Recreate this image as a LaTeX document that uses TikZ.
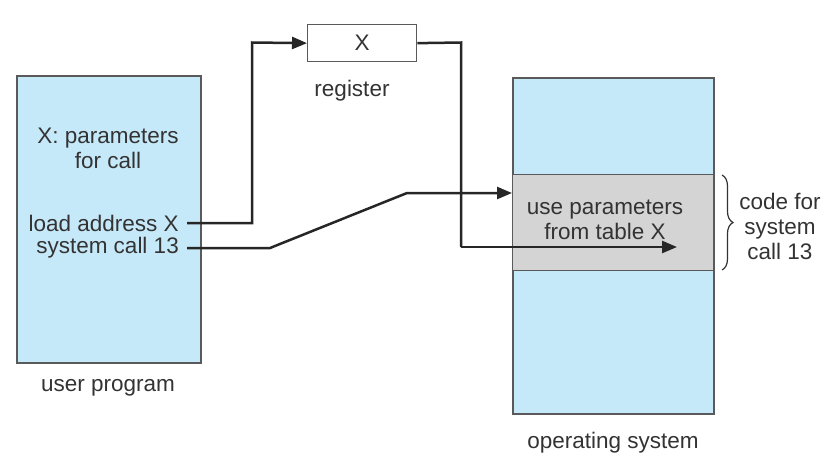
\documentclass[tikz,border=0pt]{standalone}
\usepackage{fontspec}
\setmainfont{Liberation Sans}
\usetikzlibrary{arrows.meta,decorations.pathreplacing}
\definecolor{memblue}{HTML}{C6E9F9}
\definecolor{codegray}{HTML}{D4D4D4}
\definecolor{edgegray}{HTML}{5A5A5A}
\definecolor{txt}{HTML}{333333}
\tikzset{
  membox/.style={draw=edgegray, line width=1.5pt, fill=memblue, inner sep=0pt, anchor=north west},
  bandbox/.style={draw=edgegray, line width=1.2pt, fill=codegray, inner sep=0pt, anchor=north west},
  regbox/.style={draw=edgegray, line width=1.3pt, fill=white, inner sep=0pt, anchor=north west, text=txt},
  lbl/.style={text=txt, inner sep=0pt, align=center, font=\fontsize{22.5}{25}\selectfont},
  conn/.style={draw=black!85, line width=2.5pt},
  arr/.style={conn, -{Triangle[length=15pt,width=12pt]}},
}
\begin{document}
\begin{tikzpicture}[x=1pt,y=-1pt]
\useasboundingbox (0,0) rectangle (836,459);
% boxes
\node[membox, minimum width=184pt, minimum height=287pt] (user) at (16,75) {};
\node[membox, minimum width=201pt, minimum height=336pt] (os) at (512,77) {};
\node[bandbox, minimum width=201pt, minimum height=96pt] (band) at (512,174) {};
\node[regbox, minimum width=109pt, minimum height=37pt, font=\fontsize{22.5}{25}\selectfont] (reg) at (307,24) {X};
% labels
\node[lbl] (regl) at (352,91) {register};
\node[lbl] (params) at (108,148) {X: parameters\\for call};
\node[lbl, anchor=east] (load) at (179,223) {load address X};
\node[lbl, anchor=east] (sys) at (179,248) {system call 13};
\node[lbl] (use) at (605,220) {use parameters\\from table X};
\node[lbl] (code) at (780,226) {code for\\system\\call 13};
\node[lbl] (userl) at (108,388) {user program};
\node[lbl] (osl) at (613,443) {operating system};
% coordinates
\coordinate (c1) at (252,223);
\coordinate (c2) at (252,42.5);
\coordinate (c3) at (461,42.5);
\coordinate (c4) at (461,247);
\coordinate (c5) at (677,247);
\coordinate (c6) at (270,248);
\coordinate (c7) at (407,193);
\coordinate (c8) at (512,193);
\coordinate (s1) at (187,223);
\coordinate (s2) at (187,248);
% connectors
\draw[arr] (s1) -- (c1) -- (c2) -- (reg.west);
\draw[conn] (reg.east) -- (c3) -- (c4);
\draw[arr] (c4) -- (c5);
\draw[arr] (s2) -- (c6) -- (c7) -- (c8);
% brace
\draw[draw=txt, line width=1.2pt, decorate, decoration={brace, amplitude=11pt}] (722,175) -- (722,270);
\end{tikzpicture}
\end{document}
